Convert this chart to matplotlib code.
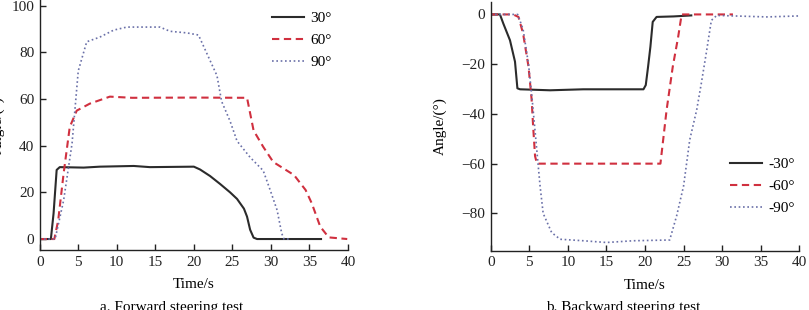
import matplotlib
matplotlib.use("Agg")
import matplotlib.pyplot as plt

plt.rcParams['font.family'] = ['Liberation Serif', 'DejaVu Serif']
plt.rcParams['font.size'] = 11

# ---- Forward steering data ----
f30_t = [0, 1.45, 1.8, 2.2, 2.6, 5.7, 7.8, 12.2, 14.3, 20.0, 20.8, 22.1, 23.4, 24.7, 25.6, 26.5, 26.9, 27.3, 27.75, 28.2, 33.8, 36.5]
f30_v = [0, 0, 11, 29.6, 30.8, 30.6, 31.0, 31.3, 30.8, 31.0, 29.8, 27.0, 23.6, 20.0, 17.2, 13.0, 9.6, 4.0, 0.6, 0, 0, 0]
f60_t = [0, 1.9, 2.4, 3.1, 3.9, 4.8, 6.5, 9.1, 12, 20, 26.9, 27.75, 29.0, 30.3, 31.6, 33.0, 34.5, 35.3, 36.4, 37.5, 39.9]
f60_v = [0, 0, 8, 28, 48, 55, 58, 61, 60.5, 60.6, 60.5, 46.5, 39.5, 33, 30.3, 27.4, 21, 15.3, 5.3, 0.7, 0]
f90_t = [0, 2.0, 3.1, 4.2, 5.0, 6.1, 7.8, 9.6, 11.3, 13.0, 15.6, 16.9, 19.1, 20.6, 22.1, 23.0, 23.6, 24.7, 25.6, 27.3, 29.0, 29.9, 30.8, 31.4, 31.7, 32.5]
f90_v = [0, 0, 16.5, 41, 72, 84.5, 86.5, 89.5, 90.8, 90.8, 90.8, 89, 88.3, 87.4, 76.5, 70, 59, 50.5, 42, 35, 29.3, 21, 12.4, 2.4, 0, 0]

# ---- Backward steering data ----
b30_t = [0, 1.2, 1.64, 2.5, 3.15, 3.46, 3.8, 7.7, 12, 18.5, 19.8, 20.1, 20.4, 20.7, 21.0, 21.5, 23.7, 26.0]
b30_v = [0, 0, -3.7, -10.4, -19, -29.7, -30.1, -30.5, -30.1, -30.1, -30.1, -28.4, -21, -13, -3, -1, -0.8, -0.4]
b60_t = [0, 2.9, 3.6, 4.2, 4.9, 5.3, 5.5, 5.75, 6.0, 12, 22.0, 22.8, 23.6, 24.3, 24.75, 25.8, 31.4]
b60_v = [0, 0, -1, -7.7, -21, -34, -45, -57, -60, -60, -60, -38.4, -21, -9, 0, 0, 0]
b90_t = [0, 3.5, 4.2, 4.9, 5.4, 5.9, 6.4, 6.8, 7.9, 9.0, 12, 15, 18.5, 23.2, 24.1, 25.0, 25.8, 26.7, 27.3, 28.0, 28.6, 29.3, 35.8, 40]
b90_v = [0, 0, -6, -20, -35, -52, -69, -80, -87.7, -90.4, -91, -91.7, -91, -90.7, -81, -69, -50.4, -38.4, -27.7, -14.4, -2.4, -0.4, -1, -0.6]

labels_f = ['30°', '60°', '90°']
labels_b = ['-30°', '-60°', '-90°']
xticks = [0, 5, 10, 15, 20, 25, 30, 35, 40]
yticks_f = [0, 20, 40, 60, 80, 100]
yticks_b = [0, -20, -40, -60, -80]

c_solid = '#2b2b2b'
c_dash = '#d0303f'
c_dot = '#6a70a8'

fig = plt.figure(figsize=(8.09, 3.10), dpi=100)
ax1 = fig.add_axes([39.7/809, 60/310, (348-39.7)/809, 250/310])
ax2 = fig.add_axes([490.7/809, 59.3/310, (799.3-490.7)/809, 248.7/310])

def style(ax):
    for s in ['top', 'right']:
        ax.spines[s].set_visible(False)
    for s in ['left', 'bottom']:
        ax.spines[s].set_linewidth(1.0)
        ax.spines[s].set_color('#222222')
    ax.tick_params(direction='in', length=4, width=1.0, colors='#222222', labelsize=11, pad=4)
    ax.set_xlim(0, 40)
    ax.set_xticks(xticks)
    ax.set_xlabel('Time/s', fontsize=11)
    ax.xaxis.set_label_coords(0.5, -0.112)

style(ax1)
ax1.plot(f30_t, f30_v, color=c_solid, lw=1.5, ls='-', label=labels_f[0])
ax1.plot(f60_t, f60_v, color=c_dash, lw=1.5, ls=(0, (3.5, 2.2)), label=labels_f[1])
ax1.plot(f90_t, f90_v, color=c_dot, lw=1.2, ls=(0, (1, 1.6)), label=labels_f[2])
ax1.set_ylim(-4.7, 102.4)
ax1.set_yticks(yticks_f)
ax1.set_ylabel('Angle/(°)', fontsize=11)
ax1.yaxis.set_label_coords(-0.112, 0.5)
ax1.legend(loc='upper left', bbox_to_anchor=(0.71, 1.01), frameon=False, fontsize=11,
           handlelength=2.1, labelspacing=0.55, handletextpad=0.4)

style(ax2)
ax2.plot(b30_t, b30_v, color=c_solid, lw=1.5, ls='-', label=labels_b[0])
ax2.plot(b60_t, b60_v, color=c_dash, lw=1.5, ls=(0, (3.5, 2.2)), label=labels_b[1])
ax2.plot(b90_t, b90_v, color=c_dot, lw=1.2, ls=(0, (1, 1.6)), label=labels_b[2])
ax2.set_ylim(-95, 5)
ax2.set_yticks(yticks_b)
ax2.set_ylabel('Angle/(°)', fontsize=11)
ax2.yaxis.set_label_coords(-0.142, 0.5)
ax2.legend(loc='upper left', bbox_to_anchor=(0.73, 0.43), frameon=False, fontsize=11,
           handlelength=2.1, labelspacing=0.55, handletextpad=0.4)

fig.text(172/809, 2/310, 'a. Forward steering test', ha='center', va='center', fontsize=11)
fig.text(623/809, 2/310, 'b. Backward steering test', ha='center', va='center', fontsize=11)

fig.savefig('out.png', dpi=100)
